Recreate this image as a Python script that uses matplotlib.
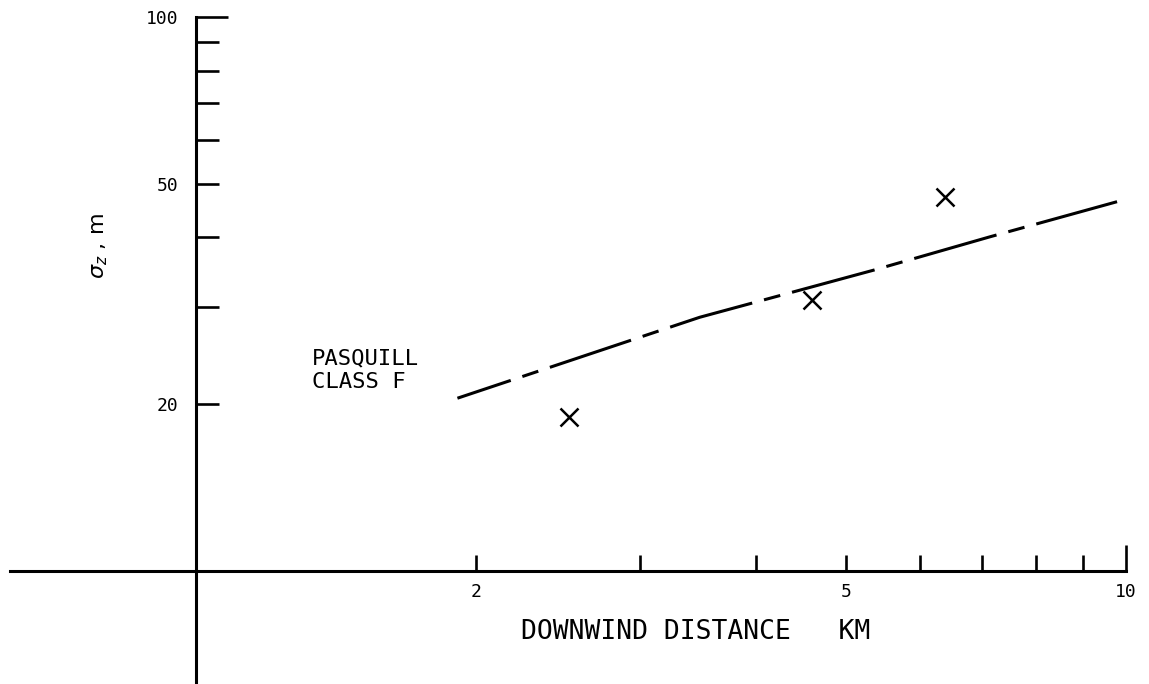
import matplotlib
matplotlib.use('Agg')
import matplotlib.pyplot as plt
from matplotlib.ticker import FixedLocator, FixedFormatter, NullFormatter

# Pasquill class F curve (downwind distance km, sigma_z m)
curve_x = [1.91, 3.48, 5.35, 7.14, 9.78]
curve_y = [20.5, 28.7, 34.9, 40.1, 46.4]
# observed points
obs_x = [2.52, 4.60, 6.39]
obs_y = [19.0, 30.9, 47.3]

x_major = [2, 5, 10]
x_major_labels = ['2', '5', '10']
x_minor = [3, 4, 6, 7, 8, 9]
y_major = [20, 50, 100]
y_major_labels = ['20', '50', '100']
y_minor = [30, 40, 60, 70, 80, 90]

plt.rcParams['font.family'] = ['DejaVu Sans']

fig = plt.figure(figsize=(11.49, 6.84), dpi=100)
fig.patch.set_facecolor('white')
ax = fig.add_axes([0, 0, 1, 1])
ax.set_xscale('log')
ax.set_yscale('log')
ax.set_xlim(0.6154, 10.585)
ax.set_ylim(6.25, 107.3)
ax.patch.set_visible(False)

for s in ['top', 'right']:
    ax.spines[s].set_visible(False)
ax.spines['left'].set_position(('data', 1))
ax.spines['bottom'].set_position(('data', 10))
ax.spines['left'].set_bounds(6.30, 100)
ax.spines['bottom'].set_bounds(0.631, 10)
for s in ['left', 'bottom']:
    ax.spines[s].set_linewidth(2.2)
    ax.spines[s].set_color('black')

ax.xaxis.set_major_locator(FixedLocator(x_major))
ax.xaxis.set_major_formatter(FixedFormatter(x_major_labels))
ax.xaxis.set_minor_locator(FixedLocator(x_minor))
ax.xaxis.set_minor_formatter(NullFormatter())
ax.yaxis.set_major_locator(FixedLocator(y_major))
ax.yaxis.set_major_formatter(FixedFormatter(y_major_labels))
ax.yaxis.set_minor_locator(FixedLocator(y_minor))
ax.yaxis.set_minor_formatter(NullFormatter())

ax.tick_params(axis='x', which='both', direction='in', length=11.5, width=1.9,
               pad=8.5, labelsize=13, colors='black')
ax.tick_params(axis='y', which='both', direction='in', length=16.5, width=1.9,
               pad=13, labelsize=13, colors='black')
for lab in ax.get_xticklabels() + ax.get_yticklabels():
    lab.set_family('DejaVu Sans Mono')

# longer end ticks
xt = ax.xaxis.get_major_ticks()
xt[2].tick1line.set_markersize(19)
yt = ax.yaxis.get_major_ticks()
yt[2].tick1line.set_markersize(23)

ax.plot(curve_x, curve_y, color='black', lw=2.2,
        linestyle=(9.6, (28, 4, 5.5, 4)), solid_capstyle='butt')
ax.plot(obs_x, obs_y, linestyle='none', marker='x', markersize=13,
        markeredgewidth=1.8, color='black')

ax.text(1.332, 25.16, 'PASQUILL\nCLASS F', fontsize=16, ha='left', va='top',
        linespacing=1.2, color='black', family='DejaVu Sans Mono')

ax.set_xlabel('DOWNWIND DISTANCE   KM', fontsize=19, family='DejaVu Sans Mono',
              va='center', ha='center')
ax.xaxis.set_label_coords(0.605, 0.076)
ax.set_ylabel('$\\sigma_z$ , m', fontsize=16, va='center', ha='center')
ax.yaxis.set_label_coords(0.087, 0.64)

fig.savefig('out.png', dpi=100, facecolor='white')
